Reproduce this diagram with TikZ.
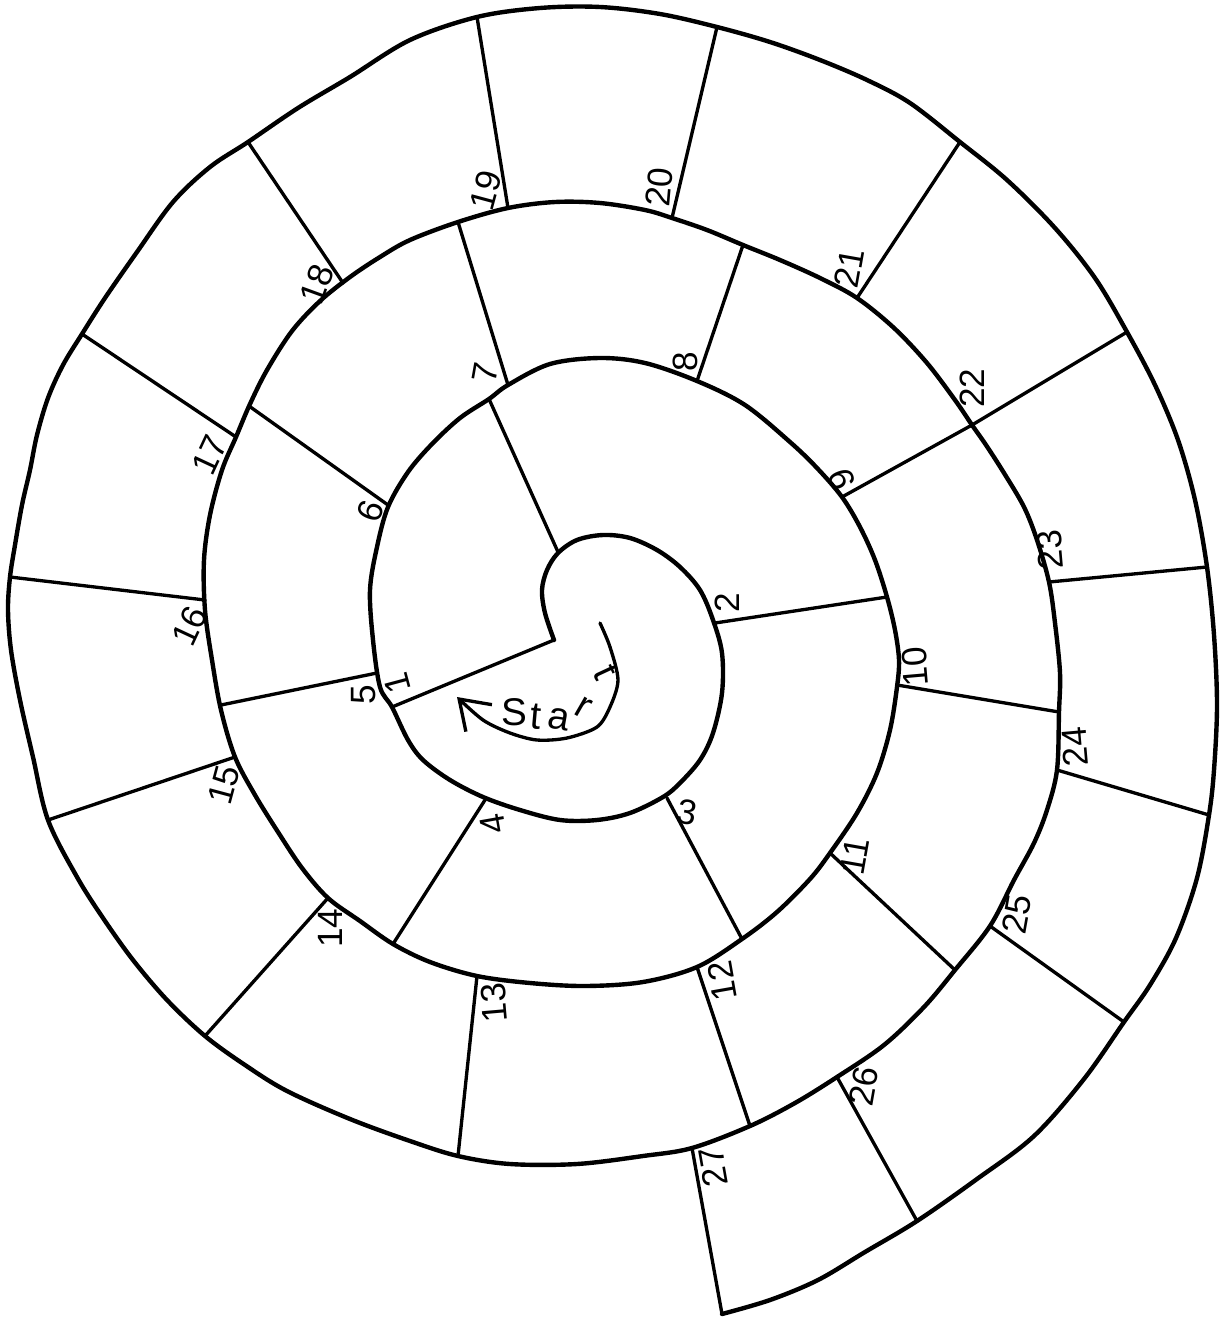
\documentclass[tikz,border=0pt]{standalone}
\usepackage{fontspec}
\setmainfont{Liberation Sans}
\usetikzlibrary{arrows.meta}

\tikzset{
  espiral/.style={line width=2.5pt, line join=round, line cap=round},
  casilla/.style={line width=1.9pt, line cap=round},
  num/.style={font=\fontsize{20}{22}\selectfont, inner sep=0pt},
  letra/.style={font=\fontsize{22}{24}\selectfont, inner sep=0pt},
}

\begin{document}
\begin{tikzpicture}[x={(0.02cm,0cm)}, y={(0cm,-0.02cm)}]
    \useasboundingbox (0,0) rectangle (1227,1319);

    % Espiral (una sola curva desde el centro)
    \draw[espiral] plot[smooth, tension=0.55] coordinates {
        (554,640) (545,613) (542,590) (547,570) (558,553) (577,540) (603,535)
        (630,538) (657,550) (680,567) (700,590) (713,620) (722,653) (722,693)
        (713,733) (700,760) (680,783) (663,797) (630,813) (597,820) (560,820)
        (520,810) (483,797) (450,780) (423,760) (408,740) (392,707) (380,687)
        (373,640) (370,590) (377,547) (388,507) (408,472) (432,444) (460,418)
        (489,399) (508,385) (550,364) (600,358) (645,363) (697,381) (745,405)
        (790,442) (817,468) (842,497) (860,527) (875,560) (887,597) (895,630)
        (899,660) (897,687) (890,730) (877,773) (857,813) (830,853) (810,879)
        (777,912) (742,939) (697,967) (643,982) (585,986) (530,983) (477,976)
        (430,962) (393,944) (360,921) (328,898) (302,868) (278,832) (255,795)
        (235,757) (221,710) (212,660) (205,610) (204,560) (210,515) (222,470)
        (236,437) (250,404) (267,370) (292,331) (320,301) (350,277) (380,257)
        (410,240) (458,222) (508,208) (555,202) (600,203) (645,210) (672,218)
        (707,230) (743,245) (780,260) (820,278) (857,298) (894,328) (927,363)
        (955,400) (972,425) (986,445) (1004,473) (1024,507) (1037,540)
        (1049,582) (1055,623) (1060,673) (1059,712) (1057,770) (1047,810)
        (1034,843) (1014,880) (990,926) (955,970) (924,1007) (884,1045)
        (837,1077) (795,1103) (750,1126) (692,1148) (643,1156) (577,1164)
        (510,1164) (458,1156) (410,1141) (350,1119) (287,1091) (245,1065)
        (205,1036) (167,1000) (133,960) (103,918) (77,877) (48,820) (33,757)
        (20,700) (11,650) (8,610) (10,577) (15,545) (22,505) (30,470)
        (37,435) (48,398) (63,365) (82,334) (105,298) (137,252) (173,202)
        (210,167) (248,142) (298,108) (350,77) (410,40) (477,17) (540,8)
        (600,7) (660,14) (717,27) (770,42) (820,60) (867,80) (910,103)
        (960,142) (1007,180) (1055,228) (1095,278) (1127,332) (1155,385)
        (1178,440) (1195,500) (1207,567) (1214,635) (1217,705) (1214,770)
        (1209,815) (1197,878) (1176,938) (1150,985) (1124,1022) (1084,1079)
        (1034,1136) (977,1179) (917,1221) (865,1252) (818,1280) (770,1300)
        (722,1314)};

    % Lineas entre casillas
    \draw[casilla] (554,640) -- (392,707);
    \draw[casilla] (558,552) -- (489,399);
    \draw[casilla] (715,623) -- (887,597);
    \draw[casilla] (667,798) -- (742,939);
    \draw[casilla] (485,800) -- (393,944);
    \draw[casilla] (377,673) -- (221,705);
    \draw[casilla] (388,505) -- (249,406);
    \draw[casilla] (508,385) -- (458,222);
    \draw[casilla] (697,381) -- (743,245);
    \draw[casilla] (842,497) -- (972,425);
    \draw[casilla] (897,685) -- (1059,712);
    \draw[casilla] (830,853) -- (955,970);
    \draw[casilla] (697,967) -- (750,1126);
    \draw[casilla] (477,976) -- (458,1156);
    \draw[casilla] (328,898) -- (205,1036);
    \draw[casilla] (235,757) -- (48,820);
    \draw[casilla] (205,600) -- (10,577);
    \draw[casilla] (236,437) -- (82,334);
    \draw[casilla] (343,283) -- (248,142);
    \draw[casilla] (508,208) -- (477,17);
    \draw[casilla] (672,218) -- (717,27);
    \draw[casilla] (857,298) -- (960,142);
    \draw[casilla] (972,425) -- (1127,332);
    \draw[casilla] (1049,582) -- (1207,567);
    \draw[casilla] (1057,770) -- (1209,815);
    \draw[casilla] (990,926) -- (1124,1022);
    \draw[casilla] (837,1077) -- (917,1221);
    \draw[casilla] (692,1148) -- (722,1314);

    % Numeros de las casillas
    \node[num, rotate=105] (n1) at (397,683) {1};
    \node[num, rotate=90] (n2) at (727,603) {2};
    \node[num, rotate=-10] (n3) at (687,812) {3};
    \node[num, rotate=100] (n4) at (493,824) {4};
    \node[num, rotate=90] (n5) at (364,695) {5};
    \node[num, rotate=70] (n6) at (370,511) {6};
    \node[num, rotate=80] (n7) at (485,373) {7};
    \node[num, rotate=90] (n8) at (685,362) {8};
    \node[num, rotate=110] (n9) at (842,479) {9};
    \node[num, rotate=95] (n10) at (915,667) {10};
    \node[num, rotate=80] (n11) at (855,856) {11};
    \node[num, rotate=100] (n12) at (722,981) {12};
    \node[num, rotate=95] (n13) at (494,1003) {13};
    \node[num, rotate=90] (n14) at (330,928) {14};
    \node[num, rotate=75] (n15) at (224,785) {15};
    \node[num, rotate=65] (n16) at (190,626) {16};
    \node[num, rotate=65] (n17) at (210,455) {17};
    \node[num, rotate=70] (n18) at (317,284) {18};
    \node[num, rotate=75] (n19) at (486,190) {19};
    \node[num, rotate=85] (n20) at (659,187) {20};
    \node[num, rotate=80] (n21) at (849,268) {21};
    \node[num, rotate=90] (n22) at (972,388) {22};
    \node[num, rotate=95] (n23) at (1050,550) {23};
    \node[num, rotate=95] (n24) at (1075,747) {24};
    \node[num, rotate=80] (n25) at (1017,914) {25};
    \node[num, rotate=80] (n26) at (864,1086) {26};
    \node[num, rotate=100] (n27) at (713,1167) {27};

    % Flecha de salida
    \draw[casilla, -{Straight Barb[length=5.5mm, width=7.5mm]}] plot[smooth] coordinates {
        (600,623) (610,647) (618,680) (610,707) (597,727) (567,738)
        (537,740) (510,733) (483,720) (457,697)};
    \foreach \ch/\px/\py/\r [count=\i] in {S/514/712/0, t/536/717/-5, a/559/719/-10, r/583/708/-30, t/606/672/-65}
        \node[letra, rotate=\r] (s\i) at (\px,\py) {\ch};
\end{tikzpicture}
\end{document}
